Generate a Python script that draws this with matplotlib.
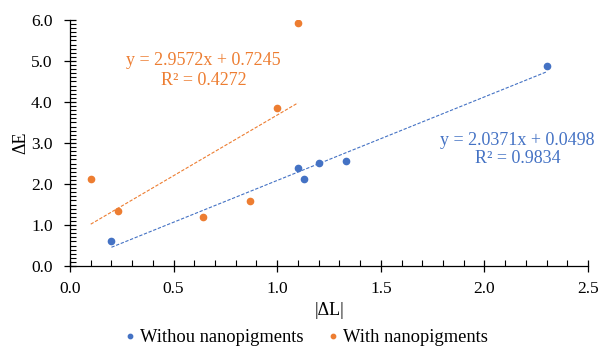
import numpy as np
import matplotlib.pyplot as plt
from matplotlib.ticker import MultipleLocator

plt.rcParams['font.family'] = ['Liberation Serif', 'DejaVu Serif']

# without nanopigments
x_wo = [0.20, 1.10, 1.13, 1.20, 1.33, 2.30]
y_wo = [0.62, 2.40, 2.12, 2.52, 2.55, 4.89]
fit_wo = (2.0371, 0.0498)
r2_wo = 0.9834

# with nanopigments
x_w = [0.10, 0.23, 0.64, 0.87, 1.00, 1.10]
y_w = [2.12, 1.33, 1.20, 1.59, 3.85, 5.92]
fit_w = (2.9572, 0.7245)
r2_w = 0.4272

blue = '#4472C4'
orange = '#ED7D31'

fig = plt.figure(figsize=(6, 3.47), dpi=100)
ax = fig.add_axes([0.1167, 0.2334, 0.8633, 0.709])

ax.plot(x_wo, y_wo, 'o', color=blue, ms=4.5, label='Withou nanopigments')
ax.plot(x_w, y_w, 'o', color=orange, ms=4.5, label='With nanopigments')

# linear trendlines over the data range
for xs, (m, b), c in [(x_wo, fit_wo, blue), (x_w, fit_w, orange)]:
    xx = np.array([min(xs), max(xs)])
    ax.plot(xx, m*xx + b, color=c, lw=0.8, ls=(0, (3, 1.5)))

ax.text(0.645, 5.0, 'y = %.4fx + %.4f' % fit_w, color=orange, fontsize=13,
        ha='center', va='center')
ax.text(0.645, 4.52, 'R² = %.4f' % r2_w, color=orange, fontsize=13,
        ha='center', va='center')
ax.text(2.16, 3.07, 'y = %.4fx + %.4f' % fit_wo, color=blue, fontsize=13,
        ha='center', va='center')
ax.text(2.16, 2.63, 'R² = %.4f' % r2_wo, color=blue, fontsize=13,
        ha='center', va='center')

ax.set_xlim(0, 2.5)
ax.set_ylim(0, 6.0)
ax.xaxis.set_major_locator(MultipleLocator(0.5))
ax.xaxis.set_minor_locator(MultipleLocator(0.1))
ax.yaxis.set_major_locator(MultipleLocator(1.0))
ax.yaxis.set_minor_locator(MultipleLocator(0.1))
ax.xaxis.set_major_formatter(lambda v, p: '%.1f' % v)
ax.yaxis.set_major_formatter(lambda v, p: '%.1f' % v)
ax.tick_params(which='major', direction='inout', length=9, width=0.9,
               labelsize=12.5)
ax.tick_params(axis='x', which='major', pad=6)
ax.tick_params(axis='y', which='major', pad=8)
ax.tick_params(which='minor', direction='in', length=4, width=0.8)

for s in ['top', 'right']:
    ax.spines[s].set_visible(False)
for s in ['left', 'bottom']:
    ax.spines[s].set_linewidth(0.9)

ax.set_xlabel('|ΔL|', fontsize=13, labelpad=4)
ax.set_ylabel('ΔE', fontsize=13, labelpad=1)

fig.legend(loc='lower center', bbox_to_anchor=(0.511, -0.045), ncol=2,
           frameon=False, fontsize=13.3, markerscale=0.7, handlelength=0.5,
           handletextpad=0.3, columnspacing=1.35)

fig.savefig('out.png', dpi=100)
